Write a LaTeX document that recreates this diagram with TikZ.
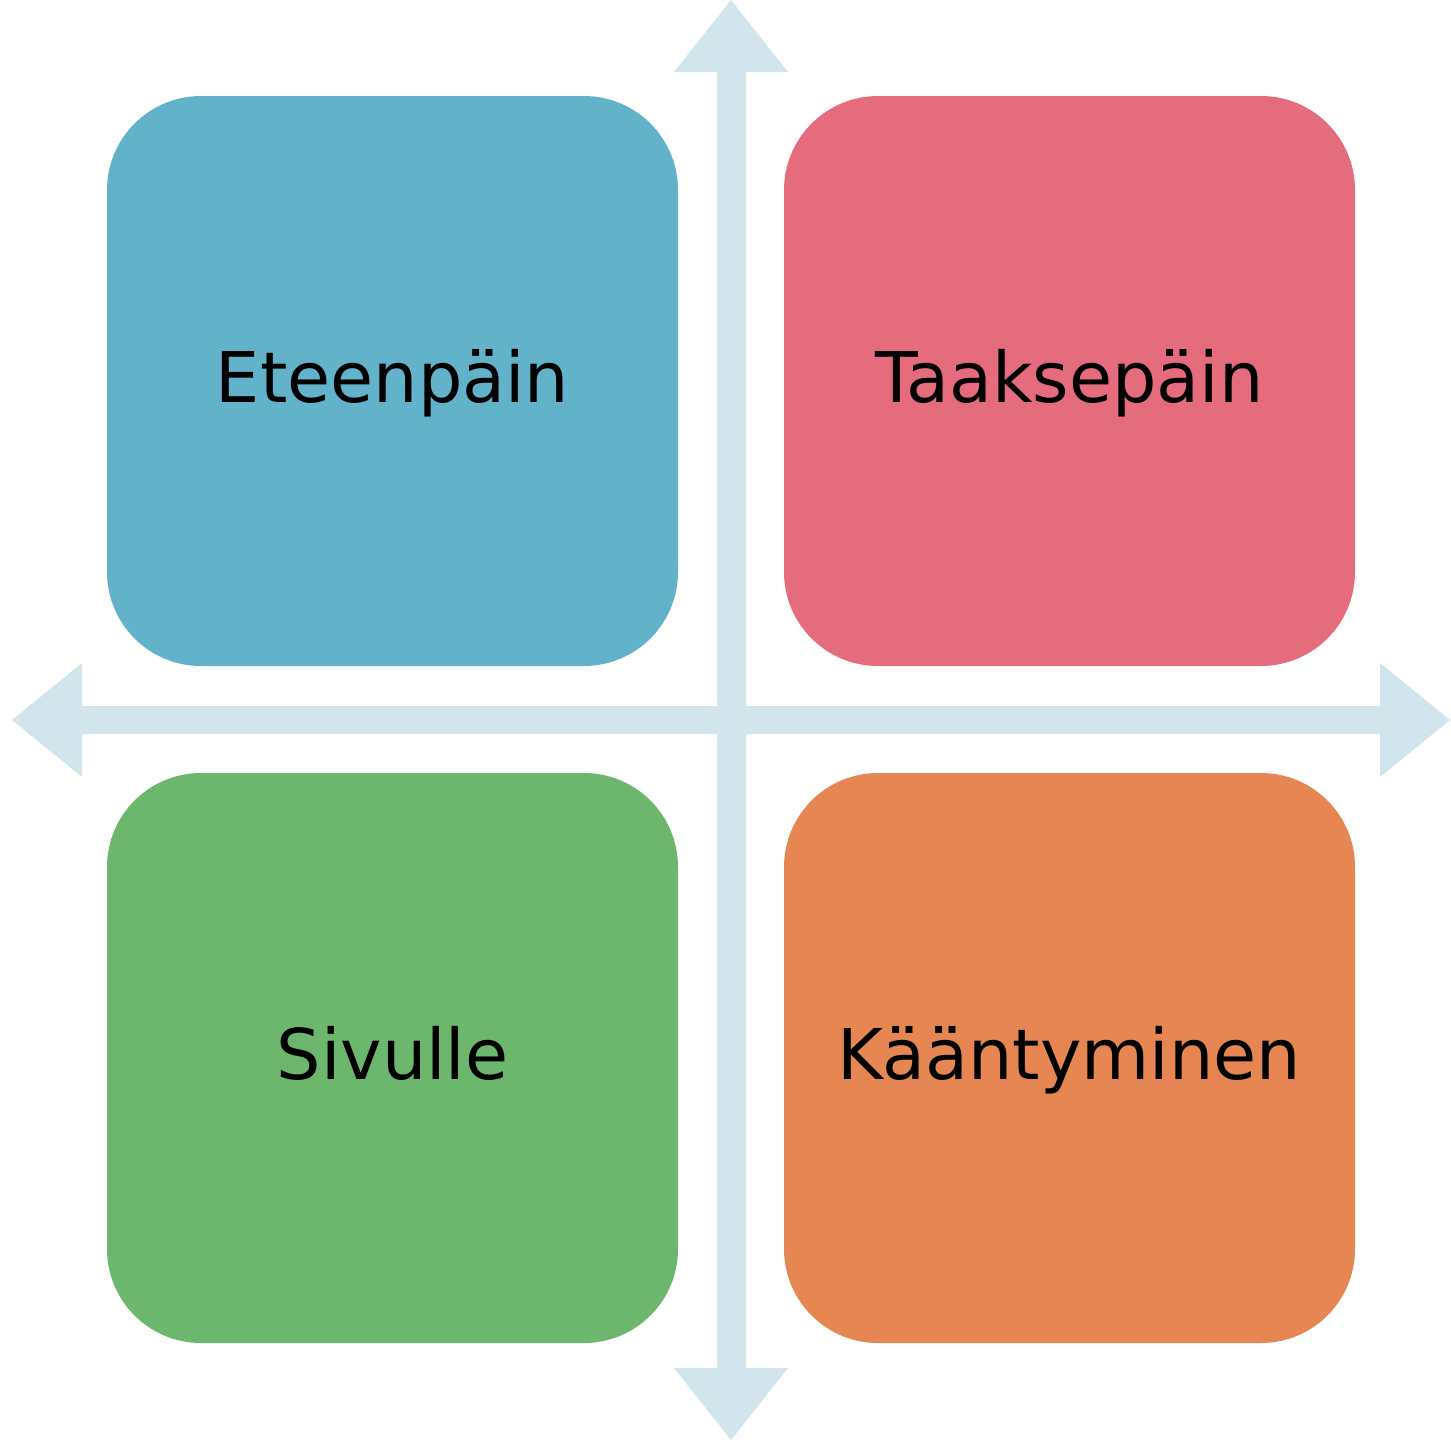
\documentclass[tikz,border=0pt]{standalone}
\usepackage{fontspec}
\setmainfont{DejaVu Sans}
\definecolor{axis}{HTML}{D2E4EC}
\definecolor{cblue}{HTML}{62B3CA}
\definecolor{cred}{HTML}{E56C7D}
\definecolor{cgreen}{HTML}{6DB66E}
\definecolor{corange}{HTML}{E68753}
\begin{document}
\begin{tikzpicture}[x=0.5pt,y=-0.5pt,
  quad/.style={rounded corners=47pt,minimum width=285.5pt,minimum height=285pt,inner sep=0pt,
    text height=28pt,text depth=7pt,font=\fontsize{35}{40}\selectfont,text=black},
  axisfill/.style={fill=axis,draw=none}]
\useasboundingbox (0,0) rectangle (1451,1440);
% vertical double arrow
\fill[axisfill] (731,0) -- (788,72) -- (746,72) -- (746,1368) -- (788,1368) -- (731,1440) -- (674,1368) -- (717,1368) -- (717,72) -- (674,72) -- cycle;
% horizontal double arrow
\fill[axisfill] (12,720) -- (82,663) -- (82,706) -- (1380,706) -- (1380,663) -- (1450,720) -- (1380,777) -- (1380,734) -- (82,734) -- (82,777) -- cycle;
\node[quad,fill=cblue] (q1) at (392.5,381) {Eteenpäin};
\node[quad,fill=cred] (q2) at (1069.5,381) {Taaksepäin};
\node[quad,fill=cgreen] (q3) at (392.5,1058) {Sivulle};
\node[quad,fill=corange] (q4) at (1069.5,1058) {Kääntyminen};
\end{tikzpicture}
\end{document}
